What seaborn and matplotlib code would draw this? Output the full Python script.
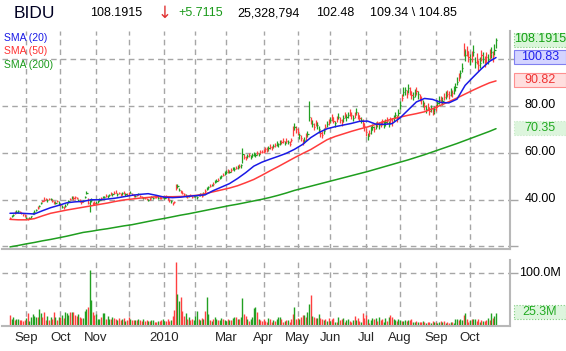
import numpy as np
import pandas as pd
import matplotlib
matplotlib.use("Agg")
import matplotlib.pyplot as plt
import matplotlib.patches as mpatches
import seaborn as sns

# trading calendar (index axis, one slot per session)
holidays = ["2009-09-07", "2009-11-26", "2009-12-25", "2010-01-01", "2010-01-18",
            "2010-02-15", "2010-04-02", "2010-05-31", "2010-07-05", "2010-09-06"]
dates = pd.bdate_range("2009-08-18", "2010-10-25")
dates = dates[~dates.isin(pd.to_datetime(holidays))]

month_labels = ["Sep", "Oct", "Nov", "", "2010", "", "Mar", "Apr", "May",
                "Jun", "Jul", "Aug", "Sep", "Oct"]

close = [
    32.0, 32.8, 33.5, 34.2, 34.8, 35.0, 34.6, 34.1, 33.6, 33.0,  # Aug 09
    32.2, 31.6, 32.0, 32.8, 33.9, 34.8, 35.5, 36.4, 37.2, 38.3, 39.4, 39.9, 40.3, 39.8,
    40.4, 40.1, 39.5, 39.0, 38.6, 39.2, 38.4,  # Sep
    37.8, 37.0, 36.6, 37.3, 38.3, 39.4, 40.2, 40.8, 40.5, 41.0, 40.6, 39.9, 39.4, 38.8,
    39.3, 41.2, 42.8, 38.6, 39.8, 40.0, 38.2, 38.6,  # Oct
    38.6, 39.2, 39.8, 40.5, 41.0, 41.2, 41.6, 41.3, 42.0, 42.5, 42.2, 42.9, 43.0, 42.4,
    42.8, 42.1, 42.6, 42.9, 42.3, 42.0,  # Nov
    42.6, 43.0, 42.4, 41.8, 41.5, 41.9, 42.3, 41.6, 41.0, 40.6, 40.8, 40.2, 39.9, 40.4,
    41.0, 40.7, 40.9, 41.2, 40.8, 41.0, 40.6, 41.1,  # Dec
    40.8, 41.2, 40.5, 39.8, 39.3, 38.6, 39.0, 44.8, 45.6, 44.2, 43.5, 42.8, 42.2, 41.6,
    41.0, 41.4, 41.9, 41.2, 41.5,  # Jan 10
    41.5, 41.0, 41.8, 42.2, 41.6, 42.5, 43.8, 44.6, 45.2, 45.8, 46.2, 46.6, 47.5, 48.0,
    48.4, 49.2, 50.0, 50.6, 51.4,  # Feb
    51.8, 52.3, 52.0, 52.8, 53.3, 53.0, 53.6, 54.0, 54.3, 54.6, 59.5, 58.2, 57.8, 58.6,
    59.0, 58.4, 59.2, 59.6, 59.0, 60.0, 59.3, 60.2, 60.5,  # Mar
    60.8, 61.5, 61.2, 62.0, 62.6, 62.3, 63.0, 63.4, 64.0, 63.6, 64.3, 64.8, 65.0, 64.4,
    65.2, 64.6, 64.0, 65.5, 69.8, 71.2, 70.4,  # Apr
    69.0, 67.5, 66.2, 64.8, 65.5, 67.0, 68.2, 75.5, 74.0, 72.5, 71.2, 73.0, 71.8, 70.2,
    68.5, 67.8, 69.5, 71.0, 72.3, 73.1,  # May
    74.0, 75.2, 73.8, 72.6, 74.4, 75.5, 74.2, 73.0, 74.8, 76.0, 75.3, 76.4, 77.2, 76.0,
    74.8, 76.5, 77.6, 76.2, 75.0, 74.2, 72.8, 71.5,  # Jun
    69.0, 67.2, 68.4, 69.8, 71.0, 70.2, 71.5, 72.4, 71.8, 72.6, 73.3, 72.0, 73.0, 73.8,
    72.5, 74.0, 73.2, 75.0, 76.2, 75.0, 77.0,  # Jul
    80.5, 83.5, 86.0, 86.8, 85.2, 87.6, 86.4, 84.8, 84.0, 85.6, 86.5, 85.0, 83.5, 82.6,
    81.2, 80.0, 78.8, 79.8, 78.0, 79.0, 77.5, 78.6,  # Aug
    79.5, 81.2, 82.5, 83.0, 82.4, 84.0, 84.6, 85.3, 84.8, 86.0, 85.5, 86.8, 88.0, 90.5,
    92.6, 94.0, 96.2, 104.0, 102.0, 103.5, 101.2,  # Sep
    100.0, 101.5, 103.4, 99.0, 100.2, 97.5, 98.6, 102.0, 100.4, 99.2, 101.0, 100.0,
    102.5, 103.0, 101.6, 104.2, 108.19,  # Oct
]

up_wick = [
    .5, .6, .4, .7, .5, .4, .6, .5, .4, .6,
    .4, .6, .5, .3, .6, .5, .4, .7, .5, .6, .4, 1.0, .5, .6, .4, .5, .7, .4, .6, .5, .8,
    .8, .6, .5, .7, .4, .6, .5, .7, .8, .5, .6, .4, .7, .5, .6, .5, .7, 2.0, .4, .5, .8, .6,
    .6, .5, .7, .4, .6, .5, .8, .6, .5, .7, .4, .6, .9, .5, .6, .7, .5, .6, .4, .7,
    .5, .7, .6, .4, .6, .5, .7, .4, .6, .5, .4, .6, .5, .7, .4, .5, .3, .4, .5, .3, .6, .4,
    .5, .6, .4, .5, .6, .4, .5, 1.7, .9, .8, .6, .7, .5, .6, .4, .5, .6, .4, .5,
    .6, .5, .7, .4, .6, .8, .7, .6, .5, .8, .6, .7, .9, .6, .7, .8, .6, .7, .8,
    .8, .6, .7, .9, .6, .8, .7, .6, .9, .7, 2.5, 1.2, .9, .8, 1.0, .7, .9, .8, 1.1, .9, .8, 1.0, .9,
    1.0, .8, 1.1, .9, 1.2, .8, 1.0, .9, 1.1, .8, 1.0, .9, 1.2, .8, 1.0, .9, 1.1, .9, 1.6, 1.4, 1.2,
    1.5, 1.2, 1.4, 1.0, 1.3, 1.5, 1.2, 6.8, 1.5, 1.4, 1.6, 1.2, 1.5, 1.3, 1.2, 1.4, 1.1, 1.3, 1.2, 1.5,
    1.5, 1.3, 1.6, 1.2, 1.4, 1.7, 1.2, 1.5, 1.3, 1.6, 1.4, 1.2, 1.5, 1.3, 1.6, 1.2, 1.4, 1.5, 1.3, 1.2, 1.6, 1.4,
    1.6, 1.4, 1.3, 1.5, 1.2, 1.4, 1.6, 1.3, 1.5, 1.2, 1.4, 1.6, 1.3, 1.5, 1.2, 1.4, 1.6, 1.3, 1.5, 1.4, 1.6,
    1.5, 1.8, 2.2, 1.6, 1.9, 1.8, 1.7, 1.5, 1.9, 1.6, 1.8, 1.5, 1.7, 1.6, 1.4, 1.7, 1.5, 1.6, 1.8, 1.4, 1.6, 1.5,
    1.6, 1.5, 1.8, 1.4, 1.7, 1.5, 1.8, 1.6, 1.5, 1.7, 1.6, 1.8, 1.9, 2.0, 1.8, 1.7, 2.1, 3.2, 2.5, 2.2, 2.6,
    2.4, 2.0, 2.6, 2.2, 2.5, 2.1, 2.4, 2.2, 2.6, 2.3, 2.1, 2.5, 2.2, 2.4, 2.0, 2.3, 1.15,
]

down_wick = [
    .4, .5, .6, .3, .5, .6, .4, .5, .7, .4,
    .6, .5, .4, .7, .3, .5, .6, .4, .5, .3, .6, .5, .4, .7, .5, .4, .6, .8, .5, .4, .6,
    .5, .7, .6, .4, .7, .5, .6, .4, .5, .7, .5, .6, .4, .7, .5, .6, .4, .5, 5.3, 1.2, .6, .8,
    .5, .6, .4, .7, .5, .6, .4, .5, .7, .4, .6, .5, .4, .7, .5, .4, .6, .5, .7, .5,
    .6, .4, .5, .7, .4, .6, .5, .7, .5, .4, .6, .5, .7, .4, .5, .4, .3, .5, .4, .6, .5, .4,
    .4, .6, .5, .7, .6, .8, .6, .9, .8, .7, .6, .5, .7, .6, .5, .4, .6, .5, .6,
    .5, .7, .4, .6, .5, .6, .8, .5, .7, .6, .5, .8, .6, .7, .5, .6, .8, .6, .7,
    .7, .9, .6, .8, .7, .9, .6, .8, .7, .9, 3.8, 1.0, .9, .8, .7, 1.0, .8, .9, .7, 1.0, .8, .9, .7,
    .9, 1.1, .8, 1.0, .9, 1.2, .8, 1.0, .9, 1.1, .8, 1.0, .9, 1.2, .8, 1.0, .9, 1.0, 2.4, 1.5, 1.8,
    1.3, 1.5, 1.2, 1.6, 1.1, 1.4, 1.5, 2.0, 1.8, 1.5, 1.3, 1.6, 1.4, 1.5, 1.8, 1.3, 1.5, 1.2, 1.4, 1.3,
    1.4, 1.6, 1.2, 1.5, 1.3, 1.2, 1.6, 1.4, 1.5, 1.2, 1.6, 1.3, 1.4, 1.6, 1.3, 1.5, 1.2, 1.6, 1.4, 1.5, 1.7, 2.0,
    1.8, 1.5, 1.3, 1.6, 1.4, 1.2, 1.5, 1.3, 1.6, 1.4, 1.2, 1.5, 1.3, 1.4, 1.6, 1.2, 1.5, 1.4, 1.3, 1.6, 1.4,
    1.6, 1.4, 1.7, 1.9, 1.5, 1.8, 1.6, 1.9, 1.5, 1.7, 1.6, 1.8, 1.5, 1.7, 1.6, 1.5, 1.8, 1.4, 1.6, 1.7, 1.5, 1.8,
    1.5, 1.7, 1.4, 1.6, 1.8, 1.5, 1.7, 1.4, 1.6, 1.8, 1.5, 1.4, 1.7, 1.6, 1.9, 1.8, 1.6, 2.4, 2.8, 2.0, 2.2,
    2.2, 2.5, 2.1, 2.7, 2.3, 2.6, 2.2, 2.5, 2.0, 2.4, 2.6, 2.1, 2.5, 2.2, 2.7, 2.3, 3.34,
]

# bar colour per session as seen on the chart: G = closed up, R = closed down
session_dir = (
    "RGGRGGRRRR"
    "GRGGGGGRGGRRRGRGRRGRG"
    "RGRGGGRGRRRGRRGGGRGGRR"
    "GGGRGGRGGRGRRGRRGRGR"
    "RGRRGRGRRGRRGRGGRRGRRG"
    "GRRRGRRRGGRRRGRGRRG"
    "GGRGRGRGGRGRGGRGGRG"
    "GRGRGGRGRGGRRGRGGGGRGRR"
    "RRRGRRGRGGGRRGRGRRRGR"
    "RGRRGRGGRGRRGGRRGRGR"
    "GRRGRGRRGRGGRRGRGRRGRR"
    "RGRGGRGRGRRGGRGRRGGRG"
    "GRGGRGRRGGRGRRGRGRRGRG"
    "RGGRGRGRRGRGGGRGGRGRR"
    "GRGGRRGRGRRGRGRGG"
)

# volume in millions of shares
volume_m = [
    20, 14, 17, 11, 14, 13, 11, 11, 9, 11,
    16, 24, 9, 17, 23, 19, 18, 17, 32, 24, 17, 27, 12, 19, 12, 17, 14, 26, 18, 11, 17,
    18, 21, 15, 27, 25, 20, 27, 26, 27, 21, 19, 23, 18, 15, 16, 29, 32, 36, 107, 49, 26, 20,
    22, 13, 13, 17, 24, 24, 13, 19, 14, 14, 17, 15, 13, 12, 16, 12, 14, 16, 10, 12,
    17, 13, 12, 11, 11, 12, 13, 11, 10, 13, 9, 12, 10, 9, 11, 12, 8, 7, 10, 9, 11, 14,
    10, 9, 13, 10, 12, 19, 31, 121, 60, 48, 56, 28, 19, 25, 13, 17, 12, 14, 11,
    19, 29, 14, 12, 16, 13, 28, 56, 22, 12, 10, 14, 17, 13, 11, 12, 15, 13, 12,
    9, 13, 12, 11, 16, 17, 17, 14, 13, 17, 53, 22, 19, 14, 9, 14, 17, 34, 37, 27, 14, 11, 9,
    13, 9, 7, 15, 13, 8, 11, 10, 13, 18, 18, 13, 8, 10, 12, 11, 8, 13, 22, 37, 14,
    16, 14, 18, 20, 20, 18, 26, 41, 58, 19, 18, 16, 15, 22, 16, 13, 12, 14, 10, 16,
    10, 14, 16, 7, 8, 17, 11, 14, 15, 8, 12, 13, 9, 8, 12, 19, 12, 15, 9, 8, 25, 15,
    21, 13, 6, 11, 16, 13, 16, 10, 17, 11, 14, 8, 15, 10, 18, 20, 17, 13, 11, 9, 13,
    12, 9, 10, 12, 9, 12, 12, 14, 7, 8, 9, 7, 7, 7, 9, 7, 6, 8, 7, 6, 10, 7,
    8, 6, 7, 9, 7, 9, 6, 7, 5, 7, 8, 6, 13, 13, 11, 14, 11, 21, 24, 14, 8,
    11, 13, 13, 13, 10, 13, 8, 11, 10, 10, 11, 15, 12, 24, 16, 19, 25.3,
]

# moving averages every 5 sessions
sma_idx = list(range(0, 300, 5)) + [299]
sma20 = [34.1, 34.2, 34.0, 33.8, 35.2, 36.5, 37.5, 38.6, 39.0, 39.2, 39.9, 39.9, 40.2, 40.6,
         41.2, 41.8, 42.2, 42.5, 41.8, 41.0, 40.8, 41.0, 41.4, 41.7, 42.0, 43.8, 45.3, 46.8,
         49.0, 51.5, 54.3, 56.0, 57.3, 58.5, 59.8, 61.5, 63.6, 66.5, 68.7, 70.3, 71.2, 71.9,
         72.6, 73.5, 73.6, 72.3, 72.2, 72.5, 75.0, 78.4, 81.8, 83.3, 82.9, 81.6, 81.4, 83.0,
         88.9, 92.5, 96.0, 99.2, 100.83]
sma50 = [31.5, 31.3, 31.3, 31.8, 33.0, 34.1, 34.8, 35.5, 36.1, 36.7, 37.3, 37.9, 38.5, 39.2,
         39.8, 40.2, 40.6, 40.9, 41.2, 41.2, 41.2, 41.3, 41.5, 41.8, 42.5, 43.3, 44.1, 44.9,
         45.9, 47.2, 48.6, 50.4, 52.3, 54.1, 56.0, 57.9, 59.7, 61.4, 63.5, 65.6, 67.0, 68.1,
         69.2, 70.2, 71.1, 72.2, 73.4, 74.5, 75.3, 76.1, 76.8, 77.6, 78.9, 80.4, 81.9, 83.5,
         85.2, 86.9, 88.5, 90.0, 90.82]
sma200 = [19.7, 20.3, 21.0, 21.6, 22.3, 22.9, 23.6, 24.3, 25.1, 25.9, 26.4, 27.0, 27.5, 28.1,
          28.7, 29.2, 29.9, 30.6, 31.3, 31.9, 32.6, 33.3, 33.9, 34.6, 35.3, 36.0, 36.7, 37.4,
          38.0, 38.7, 39.4, 40.1, 40.9, 41.8, 42.8, 43.9, 44.8, 45.7, 46.6, 47.5, 48.4, 49.3,
          50.2, 51.1, 52.0, 53.0, 54.0, 55.0, 56.0, 57.0, 58.1, 59.2, 60.4, 61.6, 62.8, 64.0,
          65.3, 66.6, 67.9, 69.2, 70.35]

df = pd.DataFrame({"date": dates, "close": close, "volume": volume_m,
                   "dir": list(session_dir)})
df["high"] = df["close"] + np.array(up_wick)
df["low"] = df["close"] - np.array(down_wick)
df["x"] = np.arange(len(df))
GREEN, RED = "#22a022", "#ff4040"
df["color"] = np.where(df["dir"] == "G", GREEN, RED)

month_pos = df.groupby(df["date"].dt.to_period("M"))["x"].min().tolist()[1:]

sns.set_style("white")
plt.rcParams["font.family"] = ["Liberation Sans", "DejaVu Sans"]

W, H = 566, 351
fig = plt.figure(figsize=(W / 100, H / 100), dpi=100)
fig.patch.set_facecolor("white")


def px_axes(left, top, right, bottom):
    return fig.add_axes([left / W, 1 - bottom / H, (right - left) / W, (bottom - top) / H])


ax = px_axes(2, 31, 510, 249)
axv = px_axes(2, 260, 510, 326)

grid_kw = dict(color="#a6a6a6", lw=1.0, ls=(0, (4, 3)))
for a in (ax, axv):
    a.set_facecolor("white")
    a.set_xlim(-4.9, 307.6)
    for s in ("left", "top"):
        a.spines[s].set_visible(False)
    for s in ("right", "bottom"):
        a.spines[s].set_color("#b8b8b8")
        a.spines[s].set_linewidth(1.5)
    a.set_xticks(month_pos)
    a.grid(True, **grid_kw)
    a.yaxis.tick_right()
    a.tick_params(axis="y", length=6, color="#a6a6a6", labelright=False, width=1)
    a.tick_params(axis="x", length=0)

# price bars
ax.vlines(df["x"], df["low"], df["high"], colors=df["color"], lw=0.9)
ax.hlines(df["close"], df["x"], df["x"] + 0.7, colors=df["color"], lw=0.9)
sns.lineplot(x=sma_idx, y=sma200, ax=ax, color="#1f9e1f", lw=1.1)
sns.lineplot(x=sma_idx, y=sma50, ax=ax, color="#ff3c3c", lw=1.1)
sns.lineplot(x=sma_idx, y=sma20, ax=ax, color="#1a1ae6", lw=1.1)
ax.set_ylim(18.8, 112.2)
ax.set_yticks([20, 40, 60, 80, 100])
ax.set_xticklabels([])
ax.set_xlabel("")
ax.set_ylabel("")

# volume bars
axv.vlines(df["x"], 0, df["volume"], colors=df["color"], lw=1.0)
axv.set_ylim(0, 125.4)
axv.set_yticks([100])
axv.set_xticklabels(month_labels, fontsize=9.5)
axv.tick_params(axis="x", pad=4)

# header
fig.text(14 / W, 1 - 13 / H, "BIDU", fontsize=12.5, va="center", color="#000022")
hdr = [(90, "108.1915", "black"), (178, "+5.7115", "#1a9a1a"),
       (237, "25,328,794", "black"), (316, "102.48", "black"),
       (370, "109.34 \\ 104.85", "black")]
for xp, txt, col in hdr:
    fig.text(xp / W, 1 - 13 / H, txt, fontsize=9, va="center", color=col)
fig.text(164.5 / W, 1 - 13 / H, "\u2193", fontsize=12, va="center", ha="center",
         color="#e03030", family=["DejaVu Sans"])

# legend
for yp, txt, col in [(38, "SMA (20)", "#1a1ae6"), (51, "SMA (50)", "#ff3030"),
                     (64.5, "SMA (200)", "#1a9a1a")]:
    fig.text(4 / W, 1 - yp / H, txt, fontsize=7.5, va="center", color=col)

# right side scale labels
for yp, txt in [(105.3, "80.00"), (152.3, "60.00"), (199.3, "40.00"), (273.3, "100.0M")]:
    fig.text(540 / W, 1 - yp / H, txt, fontsize=9, va="center", ha="center", color="black")

boxes = [(39.5, "108.1915", "#13a013", "#d9f5d9", "#7ccc7c", ":"),
         (56.8, "100.83", "#2020ee", "#d4d4ff", "#8080f0", "-"),
         (80.2, "90.82", "#ee3333", "#ffdede", "#ff9090", "-"),
         (128.2, "70.35", "#22aa22", "#ddf5dd", "#c5eac5", ":"),
         (312.4, "25.3M", "#22aa22", "#ddf5dd", "#7ccc7c", ":")]
for yp, txt, tc, fc, ec, ls in boxes:
    hgt = 14
    rect = mpatches.Rectangle((514 / W, 1 - (yp + hgt / 2) / H), 52 / W, hgt / H,
                              transform=fig.transFigure, facecolor=fc, edgecolor=ec,
                              lw=0.8, ls=ls)
    fig.patches.append(rect)
    fig.text(540 / W, 1 - yp / H, txt, fontsize=9, va="center", ha="center", color=tc)

fig.savefig("out.png", dpi=100, facecolor="white")
